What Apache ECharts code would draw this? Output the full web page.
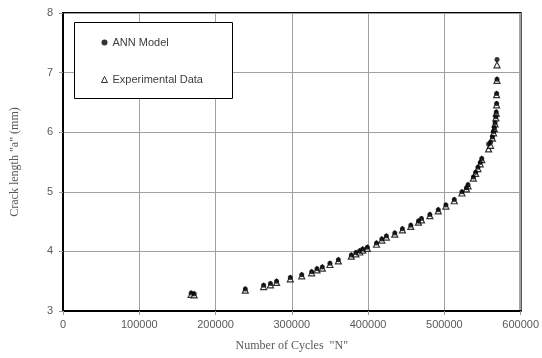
<!DOCTYPE html>
<html><head><meta charset="utf-8">
<script src="https://cdn.jsdelivr.net/npm/echarts@6/dist/echarts.min.js"></script>
<style>html,body{margin:0;padding:0;background:#fff}#c{width:542px;height:358px}</style>
</head><body><div id="c"></div>
<script>
const cycles = [168000,172000,239000,263000,272000,280000,298000,313000,326000,333000,340000,350000,361000,378000,384000,389000,393000,399000,411000,418000,424000,435000,445000,456000,466000,470000,481000,492000,502000,513000,523000,529000,531000,538000,541000,544000,547000,549000,558000,560500,563000,564500,565500,566500,567500,568000,568500,568500,569000,569000];
const annModel = [3.30,3.29,3.37,3.43,3.46,3.50,3.56,3.61,3.66,3.71,3.74,3.80,3.86,3.94,3.98,4.01,4.04,4.07,4.14,4.21,4.26,4.31,4.38,4.44,4.51,4.55,4.62,4.70,4.78,4.87,5.00,5.07,5.12,5.25,5.33,5.41,5.49,5.56,5.80,5.83,5.92,6.01,6.08,6.16,6.26,6.34,6.48,6.65,6.89,7.22];
const experimental = [3.28,3.27,3.35,3.41,3.44,3.48,3.54,3.59,3.64,3.69,3.72,3.78,3.84,3.92,3.96,3.99,4.02,4.05,4.12,4.19,4.24,4.29,4.36,4.42,4.49,4.53,4.60,4.68,4.76,4.85,4.98,5.05,5.10,5.23,5.31,5.39,5.47,5.54,5.72,5.78,5.90,5.99,6.06,6.14,6.24,6.32,6.46,6.63,6.87,7.13];
const xTicks = [0,100000,200000,300000,400000,500000,600000];
const yTicks = [3,4,5,6,7,8];

const pair = (xs, ys) => xs.map((x,i)=>[x, ys[i]]);
const gray = '#595959';
const chart = echarts.init(document.getElementById('c'), null, {renderer:'canvas'});
chart.setOption({
  animation:false,
  backgroundColor:'#fff',
  grid:{left:63,right:19,top:13,bottom:47,show:true,borderColor:'#000',borderWidth:2,backgroundColor:'transparent'},
  xAxis:{type:'value',min:xTicks[0],max:xTicks[xTicks.length-1],interval:100000,
    name:'Number of Cycles  "N"',nameLocation:'middle',nameGap:29,
    nameTextStyle:{fontFamily:'Liberation Serif',fontSize:12,color:gray},
    axisLine:{show:true,lineStyle:{color:'#000',width:2}},
    axisTick:{show:true,length:4,lineStyle:{color:'#999'}},
    axisLabel:{color:gray,fontFamily:'Liberation Sans',fontSize:11,margin:8,formatter:v=>String(v)},
    splitLine:{show:true,lineStyle:{color:'#a0a0a0',width:1}}},
  yAxis:{type:'value',min:yTicks[0],max:yTicks[yTicks.length-1],interval:1,
    name:'Crack length "a" (mm)',nameLocation:'middle',nameGap:42,
    nameTextStyle:{fontFamily:'Liberation Serif',fontSize:12,color:gray},
    axisLine:{show:true,lineStyle:{color:'#000',width:2}},
    axisTick:{show:true,length:4,lineStyle:{color:'#999'}},
    axisLabel:{color:gray,fontFamily:'Liberation Sans',fontSize:11,margin:10},
    splitLine:{show:true,lineStyle:{color:'#a0a0a0',width:1}}},
  graphic:[{type:'rect',left:74,top:22,shape:{width:158,height:76},
    style:{fill:'#fff',stroke:'#000',lineWidth:1},z:50}],
  legend:{left:96,top:32,orient:'vertical',itemGap:26,itemWidth:6,itemHeight:6,z:60,
    textStyle:{fontFamily:'Liberation Sans',fontSize:11,color:'#404040'},
    data:[{name:'ANN Model',icon:'circle'},{name:'Experimental Data',icon:'triangle',itemStyle:{color:'#fff',borderColor:'#000',borderWidth:1}}]},
  series:[
    {name:'Experimental Data',type:'scatter',symbol:'triangle',symbolSize:6,
     itemStyle:{color:'#fff',borderColor:'#000',borderWidth:1.2},data:pair(cycles,experimental)},
    {name:'ANN Model',type:'scatter',symbol:'circle',symbolSize:5,
     itemStyle:{color:'#000'},data:pair(cycles,annModel)}
  ]
});
</script></body></html>
